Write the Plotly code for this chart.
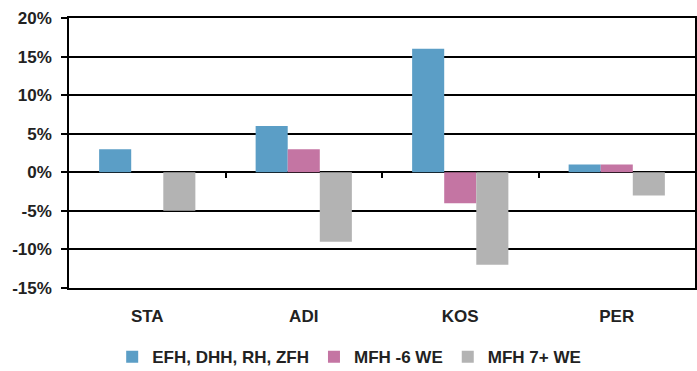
import plotly.graph_objects as go

categories = ["STA", "ADI", "KOS", "PER"]
series_names = ["EFH, DHH, RH, ZFH", "MFH -6 WE", "MFH 7+ WE"]
efh_values = [3, 6, 16, 1]
mfh6_values = [0, 3, -4, 1]
mfh7_values = [-5, -9, -12, -3]
y_ticks = [-15, -10, -5, 0, 5, 10, 15, 20]
y_tick_labels = ["-15%", "-10%", "-5%", "0%", "5%", "10%", "15%", "20%"]

colors = ["#5B9EC6", "#C475A3", "#B3B3B3"]
font_family = "Liberation Sans, Arial, sans-serif"
text_color = "#222222"

fig = go.Figure()
for name, vals, col in zip(series_names, [efh_values, mfh6_values, mfh7_values], colors):
    fig.add_trace(go.Bar(x=categories, y=vals, name=name, marker=dict(color=col, line=dict(width=0))))

# helper axis for the category separator ticks at the zero line
fig.add_trace(go.Scatter(x=[None], y=[None], xaxis="x2", showlegend=False, hoverinfo="skip"))

bold = dict(family=font_family, size=17, color=text_color, weight="bold")

fig.update_layout(
    width=697, height=371,
    margin=dict(l=69, r=2, t=18, b=83, autoexpand=False),
    paper_bgcolor="white", plot_bgcolor="white",
    barmode="group", bargap=0.385, bargroupgap=0,
    font=dict(family=font_family, size=17, color=text_color),
    xaxis=dict(
        type="category", showgrid=False, ticks="", zeroline=False, automargin=False,
        showline=True, mirror=True, linecolor="black", linewidth=1.5,
        tickfont=bold, ticklabelstandoff=12,
    ),
    xaxis2=dict(
        overlaying="x", anchor="free", position=15 / 35, range=[-0.5, 3.5],
        tickmode="array", tickvals=[0.5, 1.5, 2.5], ticks="outside", ticklen=5,
        tickcolor="black", tickwidth=1.5, showticklabels=False, showgrid=False,
        showline=False, zeroline=False, automargin=False,
    ),
    yaxis=dict(
        range=[-15, 20], tickmode="array", tickvals=y_ticks, ticktext=y_tick_labels,
        showgrid=True, gridcolor="black", gridwidth=1.5, automargin=False,
        zeroline=True, zerolinecolor="black", zerolinewidth=1.5,
        showline=True, mirror=True, linecolor="black", linewidth=1.5,
        ticks="outside", ticklen=6, tickcolor="black", tickwidth=1.5,
        tickfont=bold, ticklabelstandoff=6,
    ),
    legend=dict(
        orientation="h", x=0.069, xanchor="left", y=-0.19, yanchor="top",
        font=bold, itemwidth=30, tracegroupgap=0,
    ),
)

fig.write_html(
    "out.html",
    config={"displayModeBar": False},
    post_script="document.body.style.margin='0';",
)
